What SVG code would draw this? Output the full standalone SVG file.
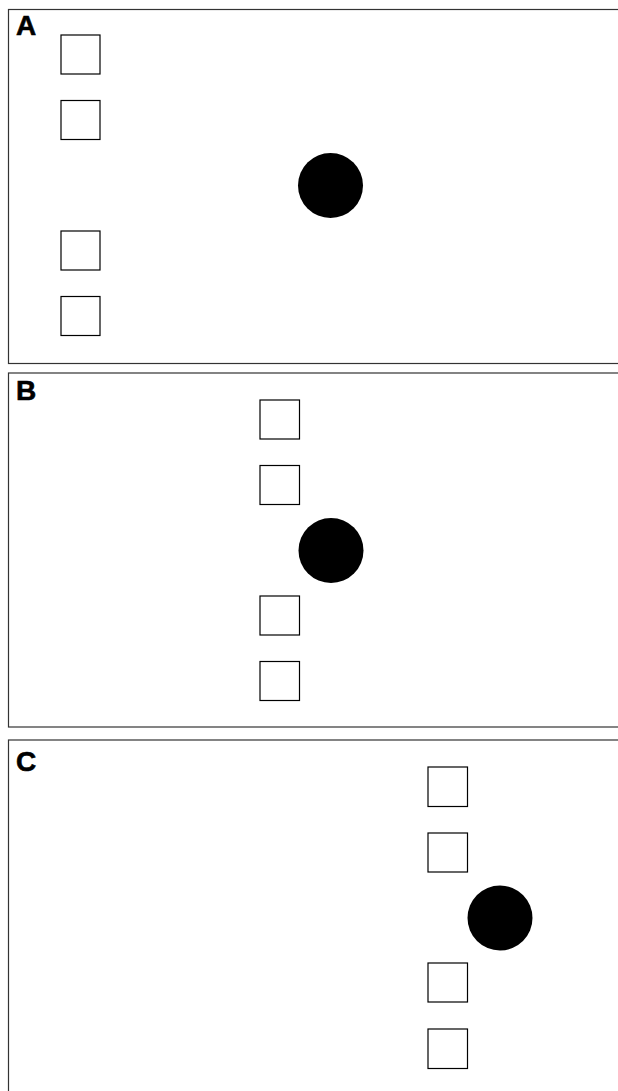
<svg xmlns="http://www.w3.org/2000/svg" width="618" height="1091" viewBox="0 0 618 1091">
<style>
.panel{fill:#fff;stroke:#333;stroke-width:1.2}
.box{fill:#fff;stroke:#000;stroke-width:1.2}
.dot{fill:#000}
.lbl{font-family:"Liberation Sans",Arial,sans-serif;font-weight:bold;font-size:28px;fill:#000;stroke:#000;stroke-width:0.6}
</style>
<rect width="618" height="1091" fill="#fff"/>
<g id="panelA">
<rect class="panel" x="8.5" y="9.5" width="700" height="354"/>
<text class="lbl" x="16" y="35">A</text>
</g>
<g id="A-box1"><rect class="box" x="61" y="35" width="39" height="39"/></g>
<g id="A-box2"><rect class="box" x="61" y="100.5" width="39" height="39"/></g>
<g id="A-box3"><rect class="box" x="61" y="231" width="39" height="39"/></g>
<g id="A-box4"><rect class="box" x="61" y="296.5" width="39" height="39"/></g>
<g id="A-dot"><circle class="dot" cx="330.5" cy="185.5" r="32.5"/></g>
<g id="panelB">
<rect class="panel" x="8.5" y="373" width="700" height="354"/>
<text class="lbl" x="16" y="400">B</text>
</g>
<g id="B-box1"><rect class="box" x="260" y="400" width="39.5" height="39"/></g>
<g id="B-box2"><rect class="box" x="260" y="465.5" width="39.5" height="39"/></g>
<g id="B-box3"><rect class="box" x="260" y="596" width="39.5" height="39"/></g>
<g id="B-box4"><rect class="box" x="260" y="661.5" width="39.5" height="39"/></g>
<g id="B-dot"><circle class="dot" cx="331" cy="550.5" r="32.5"/></g>
<g id="panelC">
<rect class="panel" x="8.5" y="740" width="700" height="400"/>
<text class="lbl" x="16" y="771">C</text>
</g>
<g id="C-box1"><rect class="box" x="428" y="767" width="39.5" height="39.5"/></g>
<g id="C-box2"><rect class="box" x="428" y="833" width="39.5" height="39"/></g>
<g id="C-box3"><rect class="box" x="428" y="963" width="39.5" height="39"/></g>
<g id="C-box4"><rect class="box" x="428" y="1029" width="39.5" height="39.5"/></g>
<g id="C-dot"><circle class="dot" cx="500" cy="918" r="32.5"/></g>
<g id="connectors"></g>
</svg>
